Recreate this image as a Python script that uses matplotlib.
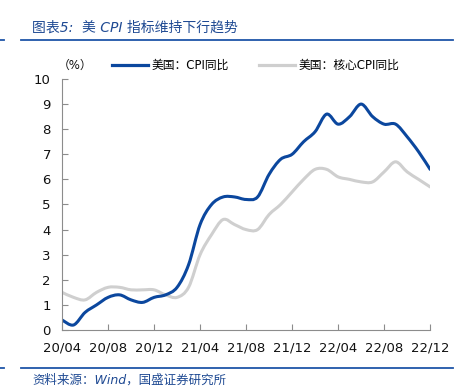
import numpy as np
import matplotlib.pyplot as plt
from matplotlib.path import Path
from matplotlib.patches import PathPatch
from matplotlib.lines import Line2D

plt.rcParams['font.family'] = ['DejaVu Sans', 'Noto Sans CJK SC']

months = ["20/04", "20/05", "20/06", "20/07", "20/08", "20/09", "20/10", "20/11", "20/12",
          "21/01", "21/02", "21/03", "21/04", "21/05", "21/06", "21/07", "21/08", "21/09",
          "21/10", "21/11", "21/12", "22/01", "22/02", "22/03", "22/04", "22/05", "22/06",
          "22/07", "22/08", "22/09", "22/10", "22/11", "22/12"]
cpi = [0.4, 0.2, 0.7, 1.0, 1.3, 1.4, 1.2, 1.1, 1.3, 1.4, 1.7, 2.6, 4.2, 5.0, 5.3, 5.3, 5.2,
       5.3, 6.2, 6.8, 7.0, 7.5, 7.9, 8.6, 8.2, 8.5, 9.0, 8.5, 8.2, 8.2, 7.7, 7.1, 6.4]
core = [1.5, 1.3, 1.2, 1.5, 1.7, 1.7, 1.6, 1.6, 1.6, 1.4, 1.3, 1.7, 3.0, 3.8, 4.4, 4.2, 4.0,
        4.0, 4.6, 5.0, 5.5, 6.0, 6.4, 6.4, 6.1, 6.0, 5.9, 5.9, 6.3, 6.7, 6.3, 6.0, 5.7]
labels = ["美国：CPI同比", "美国：核心CPI同比"]
colors = ["#0B479E", "#CFCFCF"]

blue_txt = "#1F4A93"


def smooth_path(x, y):
    # Catmull-Rom style smoothed line (like Excel's smoothed lines)
    x = np.asarray(x, float)
    y = np.asarray(y, float)
    verts = [(x[0], y[0])]
    codes = [Path.MOVETO]
    n = len(x)
    for i in range(n - 1):
        p0 = i - 1 if i > 0 else i
        p3 = i + 2 if i + 2 < n else i + 1
        c1 = (x[i] + (x[i + 1] - x[p0]) / 6, y[i] + (y[i + 1] - y[p0]) / 6)
        c2 = (x[i + 1] - (x[p3] - x[i]) / 6, y[i + 1] - (y[p3] - y[i]) / 6)
        verts += [c1, c2, (x[i + 1], y[i + 1])]
        codes += [Path.CURVE4] * 3
    return Path(verts, codes)


fig = plt.figure(figsize=(4.63, 3.91), dpi=100)
ax = fig.add_axes([0.134, 0.156, 0.795, 0.642])

xs = np.arange(len(months))
for ys, c in [(core, colors[1]), (cpi, colors[0])]:
    ax.add_patch(PathPatch(smooth_path(xs, ys), facecolor="none", edgecolor=c,
                           lw=2.2, capstyle="round", joinstyle="round"))

ax.set_xlim(0, len(months) - 1)
ax.set_ylim(0, 10)
ax.set_yticks(range(0, 11))
ax.set_xticks(xs[::4])
ax.set_xticklabels(months[::4])
for s in ["top", "right"]:
    ax.spines[s].set_visible(False)
for s in ["left", "bottom"]:
    ax.spines[s].set_color("#8C8C8C")
    ax.spines[s].set_linewidth(0.8)
ax.tick_params(axis="both", direction="in", length=4, color="#8C8C8C",
               labelsize=9.5, labelcolor="#111111")
ax.tick_params(axis="y", pad=8)
ax.tick_params(axis="x", pad=8)

fig.text(0.125, 0.833, "（%）", fontsize=8.5, color="#111111", ha="left", va="center")
handles = [Line2D([], [], color=c, lw=2.3) for c in colors]
fig.legend(handles, labels, loc="center left", bbox_to_anchor=(0.232, 0.833), ncol=2,
           frameon=False, fontsize=8.5, handlelength=3.0, handletextpad=0.3,
           columnspacing=2.6, borderaxespad=0)

fig.text(0.07, 0.93, "图表5:  美 CPI 指标维持下行趋势", fontsize=10, color=blue_txt,
         style="italic", ha="left", va="center")
fig.add_artist(Line2D([0.045, 0.978], [0.897, 0.897], color="#1F55A8", lw=1.3))
fig.add_artist(Line2D([0.0, 0.008], [0.897, 0.897], color="#1F55A8", lw=1.3))
fig.add_artist(Line2D([0.045, 0.978], [0.058, 0.058], color="#1F55A8", lw=1.3))
fig.add_artist(Line2D([0.0, 0.008], [0.058, 0.058], color="#1F55A8", lw=1.3))
fig.text(0.07, 0.028, "资料来源：Wind，国盛证券研究所", fontsize=9, color=blue_txt,
         style="italic", ha="left", va="center")

fig.savefig("out.png", dpi=100)
